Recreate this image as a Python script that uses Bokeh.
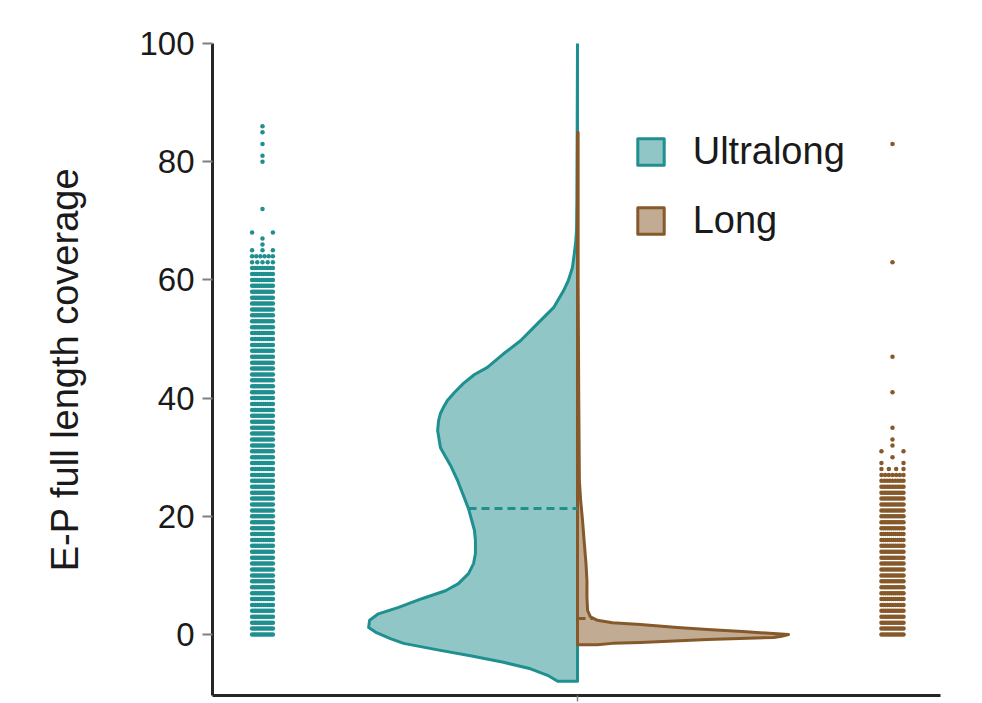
import numpy as np
from bokeh.plotting import figure
from bokeh.models import Range1d, FixedTicker, Legend, LegendItem
from bokeh.embed import file_html
from bokeh.resources import INLINE

# ---------------- data ----------------
groups = ["Ultralong", "Long"]
group_x = [-1.0, 1.0]          # strip positions; violin halves sit at 0

# strip dots: coverage level -> number of dots visible at that level
ultralong_levels = list(range(0, 61)) + [61, 62, 63, 64, 65, 66, 67, 68, 72, 80, 81, 83, 85, 86]
ultralong_dots = [12] * 61 + [10, 9, 5, 6, 3, 1, 1, 2, 1, 1, 1, 1, 1, 1]

long_levels = list(range(0, 26)) + [26, 27, 28, 29, 30, 31, 32, 33, 35, 41, 47, 63, 83]
long_dots = [12] * 26 + [9, 7, 4, 2, 1, 2, 1, 1, 1, 1, 1, 1, 1]

# violin half outlines (coverage, half width)
ultralong_kde_y = [100, 85, 73.4, 68.4, 66.2, 64.1, 62.1, 59.9, 58.2, 55.3, 52.6, 49.7,
                   47.5, 45.2, 44.0, 42.5, 41.0, 39.6, 38.5, 37.4, 36.2, 34.5, 31.6, 28.6,
                   26.1, 21.3, 17.6, 15.9, 13.7, 12.0, 10.3, 8.6, 7.4, 6.1, 4.6, 3.5, 2.4,
                   1.2, 0.3, -0.7, -1.5, -2.6, -3.6, -4.7, -5.8, -6.9, -7.9]
ultralong_kde_w = [0.0, 0.001, 0.002, 0.003, 0.006, 0.011, 0.016, 0.029, 0.044, 0.076,
                   0.127, 0.181, 0.235, 0.286, 0.327, 0.362, 0.390, 0.413, 0.425, 0.435,
                   0.441, 0.444, 0.435, 0.403, 0.381, 0.346, 0.327, 0.324, 0.324, 0.330,
                   0.346, 0.378, 0.419, 0.492, 0.568, 0.632, 0.660, 0.663, 0.638, 0.594,
                   0.552, 0.444, 0.340, 0.235, 0.149, 0.095, 0.063]

long_kde_y = [85, 60, 40, 26, 22.7, 19.3, 15.9, 12, 9.1, 6.3, 4.1, 3.0, 2.4, 2.0, 1.7,
              1.2, 0.85, 0.5, 0.17, 0.0, -0.3, -0.5, -0.85, -1.35, -1.5, -1.75]
long_kde_w = [0.002, 0.002, 0.004, 0.006, 0.010, 0.016, 0.021, 0.027, 0.030, 0.030,
              0.032, 0.041, 0.063, 0.111, 0.200, 0.317, 0.413, 0.524, 0.622, 0.670,
              0.648, 0.622, 0.413, 0.200, 0.111, 0.063]

ultralong_median = 21.3
long_median = 2.7

yticks = [0, 20, 40, 60, 80, 100]

# ---------------- style ----------------
TEAL = "#1f8f8f"
TEAL_FILL = "#91c6c7"
BROWN = "#86592b"
BROWN_FILL = "#c1ab93"
FONT = "Liberation Sans"

p = figure(frame_width=728, frame_height=652,
           min_border_left=212, min_border_right=42, min_border_top=43, min_border_bottom=8,
           x_range=Range1d(-1.1587, 1.1524), y_range=Range1d(-10.32, 100),
           output_backend="svg", toolbar_location=None)
p.grid.visible = False
p.outline_line_color = None
p.background_fill_color = "white"
p.border_fill_color = "white"

# violins
ux = [-w for w in ultralong_kde_w] + [0, 0]
uy = list(ultralong_kde_y) + [ultralong_kde_y[-1], ultralong_kde_y[0]]
r_u = p.patch(ux, uy, fill_color=TEAL_FILL, line_color=TEAL, line_width=3, line_join="round")

lx = list(long_kde_w) + [0, 0]
ly = list(long_kde_y) + [long_kde_y[-1], long_kde_y[0]]
r_l = p.patch(lx, ly, fill_color=BROWN_FILL, line_color=BROWN, line_width=3, line_join="round")

# medians
uw = float(np.interp(ultralong_median, ultralong_kde_y[::-1], ultralong_kde_w[::-1]))
p.segment(x0=[-uw], y0=[ultralong_median], x1=[0], y1=[ultralong_median],
          line_color=TEAL, line_width=3, line_dash="8 5")
lw = float(np.interp(long_median, long_kde_y[::-1], long_kde_w[::-1]))
p.segment(x0=[0], y0=[long_median], x1=[lw], y1=[long_median],
          line_color=BROWN, line_width=3, line_dash="8 5")

# strips
def strip(levels, counts, cx, half):
    xs, ys = [], []
    for lv, n in zip(levels, counts):
        if n == 1:
            xs.append(cx)
            ys.append(lv)
        else:
            for t in np.linspace(-half, half, n):
                xs.append(cx + t)
                ys.append(lv)
    return xs, ys

sx, sy = strip(ultralong_levels, ultralong_dots, group_x[0], 0.033)
p.scatter(sx, sy, size=4.5, fill_color=TEAL, line_color=None)
sx, sy = strip(long_levels, long_dots, group_x[1], 0.035)
p.scatter(sx, sy, size=4.5, fill_color=BROWN, line_color=None)

# legend
legend = Legend(items=[LegendItem(label=groups[0], renderers=[r_u]),
                       LegendItem(label=groups[1], renderers=[r_l])],
                location=(421.7, 453.5), label_text_font=FONT, label_text_font_size="38px",
                label_text_color="#1a1a1a", glyph_width=33, glyph_height=33,
                label_standoff=26, spacing=26, padding=0, margin=0,
                border_line_color=None, background_fill_alpha=0)
p.add_layout(legend)

# axes
ya = p.yaxis[0]
ya.ticker = FixedTicker(ticks=yticks)
ya.axis_label = "E-P full length coverage"
ya.axis_label_text_font = FONT
ya.axis_label_text_font_size = "38px"
ya.axis_label_text_font_style = "normal"
ya.axis_label_text_color = "#1a1a1a"
ya.axis_label_standoff = 50
ya.major_label_text_font = FONT
ya.major_label_text_font_size = "33px"
ya.major_label_text_color = "#1a1a1a"
ya.major_label_standoff = 8
ya.major_tick_out = 10
ya.major_tick_in = 0
ya.major_tick_line_color = "#808080"
ya.major_tick_line_width = 2
ya.minor_tick_line_color = None
ya.axis_line_width = 3
ya.axis_line_color = "#262626"

xa = p.xaxis[0]
xa.ticker = FixedTicker(ticks=[0])
xa.major_label_overrides = {0: ""}
xa.major_label_text_font_size = "1px"
xa.major_label_standoff = 0
xa.major_tick_out = 6
xa.major_tick_in = 0
xa.major_tick_line_color = "#808080"
xa.major_tick_line_width = 1.5
xa.minor_tick_line_color = None
xa.axis_line_width = 3
xa.axis_line_color = "#262626"

open("out.html", "w").write(file_html(p, INLINE))
